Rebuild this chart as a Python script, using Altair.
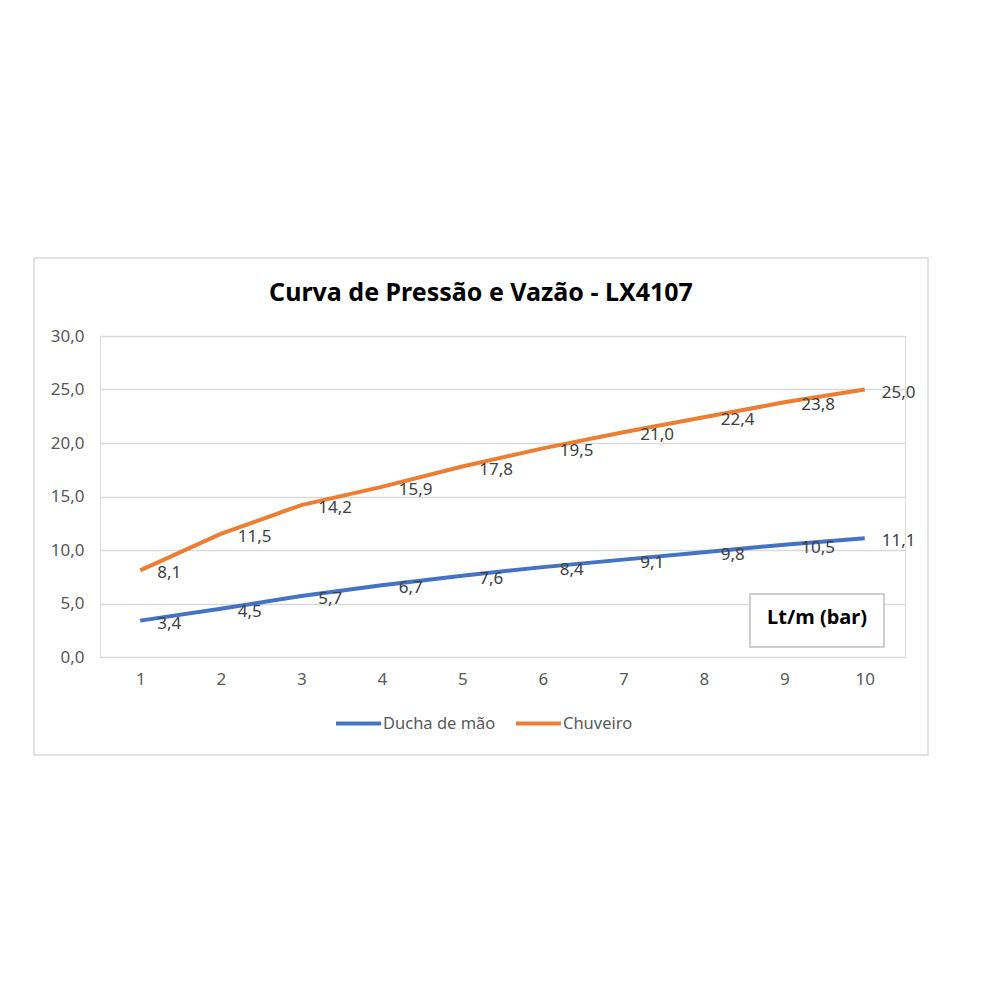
import altair as alt
import pandas as pd

pressao = [1, 2, 3, 4, 5, 6, 7, 8, 9, 10]
ducha = [3.4, 4.5, 5.7, 6.7, 7.6, 8.4, 9.1, 9.8, 10.5, 11.1]
chuveiro = [8.1, 11.5, 14.2, 15.9, 17.8, 19.5, 21.0, 22.4, 23.8, 25.0]
series = ["Ducha de mão", "Chuveiro"]
colors = ["#4472C4", "#ED7D31"]
title_text = "Curva de Pressão e Vazão - LX4107"
box_text = "Lt/m (bar)"

rows = []
for p, d, c in zip(pressao, ducha, chuveiro):
    rows.append({"p": p, "v": d, "s": series[0], "lbl": f"{d:.1f}".replace(".", ",")})
    rows.append({"p": p, "v": c, "s": series[1], "lbl": f"{c:.1f}".replace(".", ",")})
df = pd.DataFrame(rows)

FONT = "Noto Sans"
W, H = 805, 321

x = alt.X("p:O", title=None, scale=alt.Scale(type="point", padding=0.5),
          axis=alt.Axis(labelAngle=0, labelFontSize=17, labelColor="#595959", labelFont=FONT,
                        domain=False, ticks=False, labelPadding=14))
y = alt.Y("v:Q", title=None, scale=alt.Scale(domain=[0, 30]),
          axis=alt.Axis(values=[0, 5, 10, 15, 20, 25, 30], labelFontSize=17, labelColor="#595959",
                        labelFont=FONT, domain=False, ticks=False, labelPadding=16,
                        gridColor="#d9d9d9", gridWidth=1.5,
                        labelExpr="replace(format(datum.value, '.1f'), '.', ',')"))

color = alt.Color("s:N", scale=alt.Scale(domain=series, range=colors), sort=series,
                  legend=alt.Legend(title=None, orient="none", legendX=234, legendY=363,
                                    direction="horizontal", symbolType="stroke",
                                    symbolStrokeWidth=4, symbolSize=2025, labelFontSize=16.5,
                                    labelColor="#595959", labelFont=FONT, labelOffset=0,
                                    columnPadding=12))

lines = alt.Chart(df).mark_line(strokeWidth=4).encode(x=x, y=y, color=color)
labels = alt.Chart(df).mark_text(align="left", dx=17, dy=3, baseline="middle", fontSize=17,
                                 color="#404040", font=FONT).encode(x=x, y=y, text="lbl:N")

one = pd.DataFrame({"t": [title_text]})
outer = alt.Chart(one).mark_rect(fill=None, stroke="#d9d9d9", strokeWidth=1.5).encode(
    x=alt.value(-66), x2=alt.value(828), y=alt.value(-78), y2=alt.value(419))
title = alt.Chart(one).mark_text(fontSize=25, fontWeight="bold", font=FONT, color="#000000",
                                 baseline="middle", align="center").encode(
    x=alt.value(381), y=alt.value(-43), text="t:N")

boxdf = pd.DataFrame({"t": [box_text]})
box = alt.Chart(boxdf).mark_rect(fill="white", stroke="#bfbfbf", strokeWidth=1.5).encode(
    x=alt.value(650), x2=alt.value(784), y=alt.value(258), y2=alt.value(311))
boxlabel = alt.Chart(boxdf).mark_text(fontSize=20, fontWeight="bold", font=FONT, color="#000000",
                                      baseline="middle", align="center").encode(
    x=alt.value(717), y=alt.value(282), text="t:N")

chart = alt.layer(outer, title, box, boxlabel, lines, labels).properties(
    width=W, height=H,
    autosize=alt.AutoSizeParams(type="none"),
    padding={"left": 92, "top": 328, "right": 70, "bottom": 230},
).configure_view(stroke=None).configure(background="white")

chart.save("out.html", embed_options={"renderer": "svg", "actions": False})
